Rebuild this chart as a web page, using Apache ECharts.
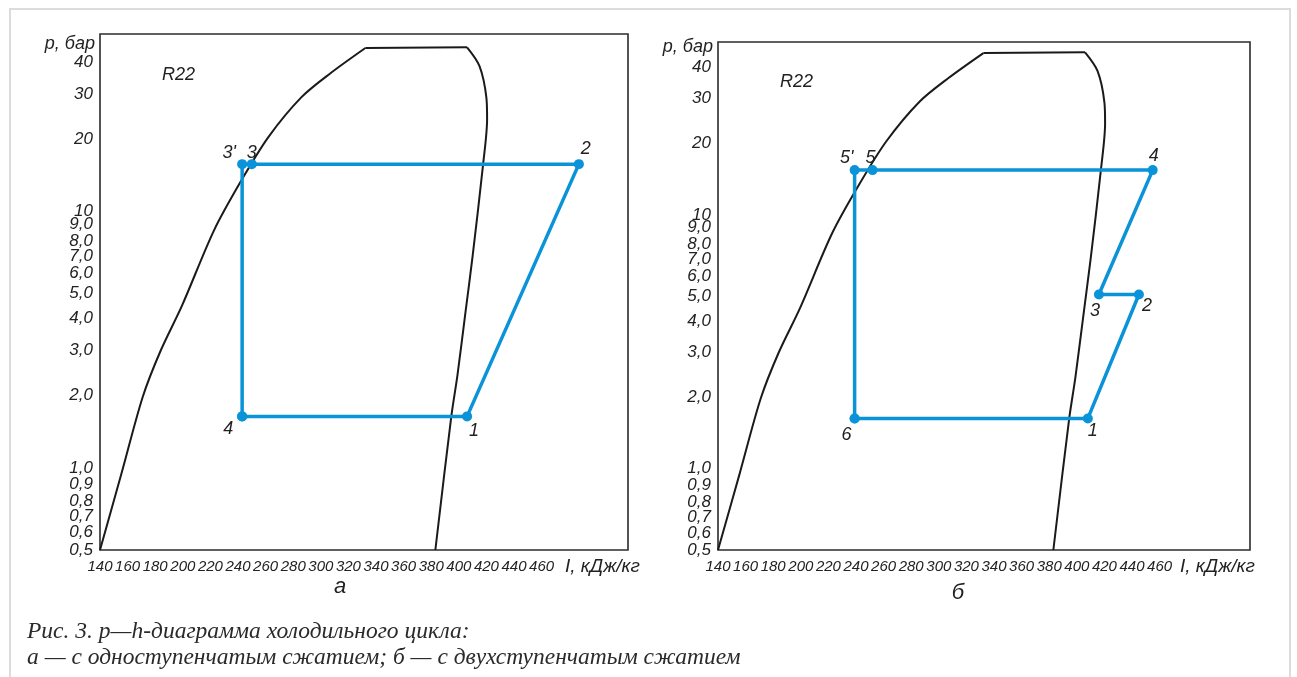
<!DOCTYPE html>
<html>
<head>
<meta charset="utf-8">
<script src="https://cdn.jsdelivr.net/npm/echarts@6/dist/echarts.min.js"></script>
<style>
html, body { margin: 0; padding: 0; background: #fff; }
#main { width: 1297px; height: 677px; }
</style>
</head>
<body>
<div id="main"></div>
<script>
// pressure ticks (log scale) and their printed labels
var pTicks = [0.5, 0.6, 0.7, 0.8, 0.9, 1, 2, 3, 4, 5, 6, 7, 8, 9, 10, 20, 30, 40];
var pTickLabels = ['0,5', '0,6', '0,7', '0,8', '0,9', '1,0', '2,0', '3,0', '4,0', '5,0', '6,0', '7,0', '8,0', '9,0', '10', '20', '30', '40'];
var hTicks = [140, 160, 180, 200, 220, 240, 260, 280, 300, 320, 340, 360, 380, 400, 420, 440, 460];

// R22 saturation dome: liquid branch, vapour branch
var domeLeftH = [140, 155.7, 171, 184, 199.5, 222.7, 242.7, 262, 286, 307, 332.3];
var domeLeftP = [0.5, 1.0, 1.98, 3.0, 4.5, 8.85, 13.9, 20.4, 29.2, 36.2, 45.4];
var domeRightH = [406, 415, 420, 420.5, 417.5, 410, 405, 399, 394.5, 383];
var domeRightP = [45.7, 38.6, 29, 24, 15.8, 7, 4.3, 2.4, 1.65, 0.5];

// cycle a: single stage
var cycleANames = ['4', '1', '2', '3', "3'", '4'];
var cycleAH = [243, 406, 487, 250, 243, 243];
var cycleAP = [1.66, 1.66, 16, 16, 16, 1.66];

// cycle b: two stage
var cycleBNames = ['6', '1', '2', '3', '4', '5', "5'", '6'];
var cycleBH = [239, 408, 445, 416, 455, 252, 239, 239];
var cycleBP = [1.65, 1.65, 5.08, 5.08, 15.7, 15.7, 15.7, 1.65];

var blue = '#0a93d8';
var ink = '#222';
var sans = '"Liberation Sans Narrow", "Liberation Sans", sans-serif';

var offA = { '4': [-14, 13], '1': [7, 15], '2': [7, -15], '3': [0, -11], "3'": [-13, -11] };
var offB = { '6': [-8, 17], '1': [5, 13], '2': [8, 12], '3': [-4, 17], '4': [1, -14], '5': [-2, -12], "5'": [-8, -12] };
// crowded pressure labels are spread a little, as printed
var nudge = { '1,0': 'u5', '10': 'u5', '9,0': 'u4', '0,8': 'd4', '0,7': 'd4', '0,6': 'd3' };

var myChart = echarts.init(document.getElementById('main'));

function lg(v) { return Math.log10(v); }

function pLabel(v) {
    for (var i = 0; i < pTicks.length; i++) {
        if (Math.abs(lg(pTicks[i]) - v) < 1e-6) {
            var s = pTickLabels[i];
            return '{' + (nudge[s] || 'n') + '|' + s + '}';
        }
    }
    return '';
}

function yRich() {
    var f = { color: ink, fontSize: 17, fontStyle: 'italic', fontFamily: sans };
    return {
        n: echarts.util.extend({}, f),
        u5: echarts.util.extend({ padding: [0, 0, 10, 0] }, f),
        u4: echarts.util.extend({ padding: [0, 0, 8, 0] }, f),
        d4: echarts.util.extend({ padding: [8, 0, 0, 0] }, f),
        d3: echarts.util.extend({ padding: [6, 0, 0, 0] }, f)
    };
}

function xAxisFor(idx, max) {
    return {
        type: 'value', gridIndex: idx, min: 140, max: max,
        axisLine: { show: false }, axisTick: { show: false }, splitLine: { show: false },
        axisLabel: {
            customValues: hTicks, margin: 9, color: ink, fontSize: 15,
            fontStyle: 'italic', fontFamily: sans,
            // narrow layout box so tightly packed labels are not dropped
            width: 20, overflow: 'none',
            showMinLabel: true, showMaxLabel: true, hideOverlap: false
        }
    };
}

function yAxisFor(idx, max, gap) {
    return {
        type: 'value', gridIndex: idx, min: lg(0.5), max: lg(max),
        axisLine: { show: false }, axisTick: { show: false }, splitLine: { show: false },
        axisLabel: {
            customValues: pTicks.map(lg), formatter: pLabel, margin: 7,
            color: ink, fontSize: 17, fontStyle: 'italic', fontFamily: sans,
            rich: yRich(),
            showMinLabel: true, showMaxLabel: true, hideOverlap: false
        },
        name: 'p, бар', nameLocation: 'end', nameGap: gap, nameMoveOverlap: false,
        nameTextStyle: {
            color: ink, fontSize: 18, fontStyle: 'italic', fontFamily: sans,
            align: 'right', verticalAlign: 'top', padding: [0, 5, 0, 0]
        }
    };
}

function domeSeries(idx) {
    var base = {
        type: 'line', xAxisIndex: idx, yAxisIndex: idx, symbol: 'none',
        lineStyle: { color: '#1a1a1a', width: 2 }, z: 2
    };
    var left = echarts.util.extend({
        smooth: 0.3,
        data: domeLeftH.map(function (h, i) { return [h, lg(domeLeftP[i])]; })
    }, base);
    var right = echarts.util.extend({
        smooth: 0.3,
        data: domeRightH.map(function (h, i) { return [h, lg(domeRightP[i])]; })
    }, base);
    var top = echarts.util.extend({
        data: [[domeLeftH[domeLeftH.length - 1], lg(domeLeftP[domeLeftP.length - 1])], [domeRightH[0], lg(domeRightP[0])]]
    }, base);
    return [left, top, right];
}

function cycleSeries(idx, names, H, P, off) {
    return {
        type: 'line', xAxisIndex: idx, yAxisIndex: idx,
        symbol: 'circle', symbolSize: 10, z: 3,
        lineStyle: { color: blue, width: 3.5 },
        itemStyle: { color: blue },
        label: {
            position: 'inside', color: ink, fontSize: 18,
            fontStyle: 'italic', fontFamily: sans
        },
        data: H.map(function (h, i) {
            var n = names[i];
            return {
                value: [h, lg(P[i])],
                label: { show: names.indexOf(n) === i, formatter: n, offset: off[n] }
            };
        })
    };
}

var txt = function (s, x, y, font, extra) {
    var style = { text: s, fill: ink, font: font, verticalAlign: 'middle' };
    if (extra) echarts.util.extend(style, extra);
    return { type: 'text', x: x, y: y, style: style };
};

var option = {
    animation: false,
    backgroundColor: '#fff',
    grid: [
        { left: 100, top: 34, width: 528, height: 516, show: true, borderColor: '#2b2b2b', borderWidth: 1.6, backgroundColor: 'transparent', outerBoundsMode: 'none' },
        { left: 718, top: 42, width: 532, height: 508, show: true, borderColor: '#2b2b2b', borderWidth: 1.6, backgroundColor: 'transparent', outerBoundsMode: 'none' }
    ],
    xAxis: [xAxisFor(0, 522.6), xAxisFor(1, 525.5)],
    yAxis: [yAxisFor(0, 51.5, -1), yAxisFor(1, 50.2, 4)],
    graphic: [
        { type: 'rect', shape: { x: 10, y: 9, width: 1280, height: 700 }, style: { fill: 'none', stroke: '#dcdcdc', lineWidth: 2 }, silent: true },
        txt('R22', 162, 75, 'italic 18px ' + sans),
        txt('R22', 780, 82, 'italic 18px ' + sans),
        txt('I, кДж/кг', 565, 567, 'italic 19px ' + sans),
        txt('I, кДж/кг', 1180, 567, 'italic 19px ' + sans),
        txt('а', 340, 587, 'italic 22px ' + sans, { align: 'center' }),
        txt('б', 958, 593, 'italic 22px ' + sans, { align: 'center' }),
        txt('Рис. 3. p—h-диаграмма холодильного цикла:', 27, 632, 'italic 23.5px "Liberation Serif", serif', { fill: '#2a2a2a' }),
        txt('а — с одноступенчатым сжатием; б — с двухступенчатым сжатием', 27, 658, 'italic 23.5px "Liberation Serif", serif', { fill: '#2a2a2a' })
    ],
    series: domeSeries(0).concat(domeSeries(1)).concat([
        cycleSeries(0, cycleANames, cycleAH, cycleAP, offA),
        cycleSeries(1, cycleBNames, cycleBH, cycleBP, offB)
    ])
};

myChart.setOption(option);
</script>
</body>
</html>
